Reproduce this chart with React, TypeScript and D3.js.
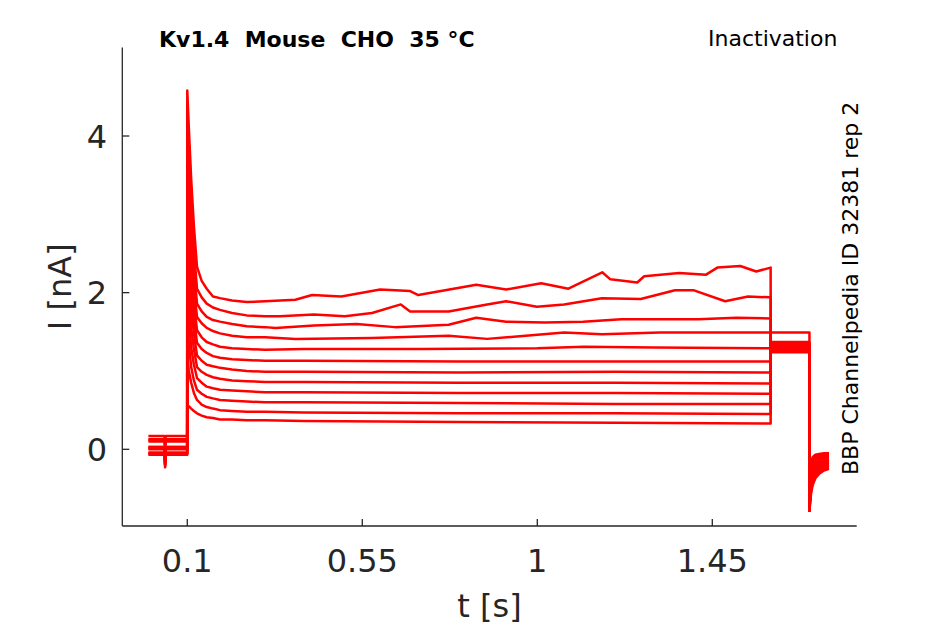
import React, { useEffect, useRef } from 'react';
import * as d3 from 'd3';

// --- data (12 sweeps, lowest plateau first) ---

const xTicks = [0.1, 0.55, 1, 1.45];
const yTicks = [0, 2, 4];

// holding level before the first step (t = 0 .. 0.1 s)
const baseLevels = [0.17, 0.12, 0.13, 0.1, 0.03, 0.01, 0.0, 0.03, -0.05, -0.04, -0.07, -0.06];
// short artefact at t ~ 0.043 s
const dipLevels = [0.1, 0.05, 0.06, 0.03, -0.05, -0.07, -0.1, -0.06, -0.18, -0.2, -0.23, -0.21];

// fast transient after the step
const earlyTimes = [0.1, 0.104, 0.11, 0.117, 0.125, 0.137, 0.15, 0.166, 0.184, 0.215, 0.253, 0.3];
const earlyValues = [
  [0.52, 0.55, 0.52, 0.49, 0.46, 0.43, 0.41, 0.4, 0.38, 0.38, 0.37, 0.37],
  [1.2, 1.0, 0.85, 0.72, 0.63, 0.57, 0.54, 0.52, 0.5, 0.49, 0.48, 0.48],
  [1.7, 1.35, 1.05, 0.88, 0.76, 0.71, 0.67, 0.65, 0.63, 0.62, 0.61, 0.6],
  [2.2, 1.7, 1.3, 1.08, 0.91, 0.85, 0.8, 0.78, 0.76, 0.75, 0.74, 0.73],
  [2.6, 2.05, 1.55, 1.28, 1.05, 0.99, 0.95, 0.92, 0.9, 0.88, 0.87, 0.86],
  [3.0, 2.4, 1.8, 1.48, 1.2, 1.13, 1.08, 1.06, 1.04, 1.02, 1.0, 0.99],
  [3.4, 2.7, 2.05, 1.68, 1.36, 1.28, 1.23, 1.19, 1.17, 1.15, 1.14, 1.13],
  [3.7, 3.0, 2.3, 1.88, 1.52, 1.43, 1.37, 1.34, 1.31, 1.29, 1.28, 1.27],
  [4.0, 3.3, 2.55, 2.08, 1.69, 1.61, 1.55, 1.51, 1.48, 1.45, 1.43, 1.43],
  [4.2, 3.55, 2.8, 2.3, 1.86, 1.76, 1.69, 1.65, 1.63, 1.6, 1.57, 1.56],
  [4.4, 3.8, 3.1, 2.55, 2.05, 1.94, 1.86, 1.81, 1.78, 1.74, 1.71, 1.7],
  [4.58, 4.1, 3.45, 2.85, 2.33, 2.15, 2.05, 1.95, 1.93, 1.9, 1.88, 1.89],
];

// sustained current during the step, [t, I]
const plateauPoints: [number, number][][] = [
  [[0.4, 0.36], [0.8, 0.35], [1.2, 0.34], [1.6, 0.33]],
  [[0.4, 0.47], [0.8, 0.46], [1.2, 0.46], [1.6, 0.45]],
  [[0.4, 0.6], [0.8, 0.59], [1.2, 0.58], [1.6, 0.58]],
  [[0.4, 0.73], [0.8, 0.72], [1.2, 0.72], [1.6, 0.71]],
  [[0.4, 0.86], [0.8, 0.85], [1.2, 0.85], [1.6, 0.84]],
  [[0.4, 0.99], [0.8, 0.98], [1.2, 0.99], [1.6, 0.98]],
  [[0.4, 1.13], [0.8, 1.12], [1.2, 1.12], [1.6, 1.12]],
  [[0.4, 1.28], [0.7, 1.28], [1.0, 1.29], [1.12, 1.31], [1.3, 1.3], [1.6, 1.29]],
  [[0.378, 1.41], [0.575, 1.42], [0.772, 1.45], [0.871, 1.41], [0.97, 1.45], [1.069, 1.49],
    [1.166, 1.47], [1.315, 1.49], [1.463, 1.49], [1.6, 1.49]],
  [[0.327, 1.55], [0.426, 1.58], [0.535, 1.6], [0.634, 1.56], [0.772, 1.59], [0.843, 1.68],
    [0.92, 1.63], [1.019, 1.62], [1.118, 1.63], [1.216, 1.66], [1.315, 1.66], [1.414, 1.66],
    [1.512, 1.68], [1.6, 1.67]],
  [[0.338, 1.7], [0.426, 1.72], [0.505, 1.7], [0.575, 1.74], [0.649, 1.85], [0.673, 1.76],
    [0.772, 1.76], [0.871, 1.85], [0.92, 1.89], [0.999, 1.82], [1.069, 1.85], [1.166, 1.93],
    [1.266, 1.92], [1.354, 2.03], [1.403, 2.03], [1.483, 1.89], [1.542, 1.95], [1.6, 1.94]],
  [[0.378, 1.91], [0.421, 1.97], [0.496, 1.95], [0.596, 2.04], [0.673, 2.02], [0.694, 1.97],
    [0.774, 2.04], [0.843, 2.1], [0.92, 2.04], [1.01, 2.12], [1.08, 2.05], [1.167, 2.26],
    [1.188, 2.17], [1.257, 2.13], [1.275, 2.21], [1.365, 2.25], [1.434, 2.23], [1.463, 2.32],
    [1.522, 2.34], [1.563, 2.27], [1.6, 2.32]],
];

// test pulse level (t = 1.6 .. 1.7 s)
const tailLevels = [1.49, 1.37, 1.35, 1.34, 1.33, 1.32, 1.31, 1.3, 1.29, 1.28, 1.26, 1.24];

// return to holding (t = 1.7 .. 1.75 s)
const recoveryTimes = [1.7, 1.7012, 1.704, 1.708, 1.715, 1.725, 1.737, 1.75];
const recoveryValues = [
  [-0.78, -0.7, -0.56, -0.46, -0.37, -0.31, -0.27, -0.25],
  [-0.78, -0.68, -0.53, -0.43, -0.35, -0.29, -0.25, -0.23],
  [-0.78, -0.66, -0.5, -0.4, -0.32, -0.27, -0.23, -0.21],
  [-0.78, -0.64, -0.47, -0.37, -0.29, -0.24, -0.21, -0.19],
  [-0.78, -0.62, -0.44, -0.34, -0.26, -0.22, -0.19, -0.17],
  [-0.78, -0.6, -0.41, -0.31, -0.23, -0.19, -0.17, -0.15],
  [-0.78, -0.58, -0.38, -0.28, -0.21, -0.17, -0.15, -0.13],
  [-0.78, -0.56, -0.34, -0.24, -0.18, -0.15, -0.12, -0.11],
  [-0.78, -0.54, -0.3, -0.21, -0.15, -0.12, -0.1, -0.09],
  [-0.78, -0.52, -0.26, -0.17, -0.12, -0.1, -0.09, -0.08],
  [-0.78, -0.5, -0.22, -0.13, -0.09, -0.08, -0.07, -0.06],
  [-0.78, -0.48, -0.18, -0.1, -0.07, -0.06, -0.05, -0.05],
];

const AXIS = '#262626';
const FONT = 'DejaVu Sans, sans-serif';

const App: React.FC = () => {
  const svgRef = useRef<SVGSVGElement>(null);

  useEffect(() => {
    if (!svgRef.current) return;
    d3.select(svgRef.current).selectAll('*').remove();

    const width = 945;
    const height = 624;
    const svg = d3.select(svgRef.current)
      .attr('width', width)
      .attr('height', height)
      .attr('viewBox', `0 0 ${width} ${height}`);

    const left = 122.3, right = 856.7, top = 47.5, bottom = 526;
    const x = d3.scaleLinear().domain([-0.0671, 1.8213]).range([left, right]);
    const y = d3.scaleLinear().domain([-0.979, 5.13]).range([bottom, top]);

    // build each sweep
    const line = d3.line<[number, number]>()
      .x(d => x(d[0]))
      .y(d => y(d[1]));

    const plot = svg.append('g');
    baseLevels.forEach((base, i) => {
      const pts: [number, number][] = [
        [0, base], [0.041, base], [0.043, dipLevels[i]], [0.045, base], [0.0998, base],
      ];
      earlyTimes.forEach((t, k) => pts.push([t, earlyValues[i][k]]));
      plateauPoints[i].forEach(p => pts.push(p));
      pts.push([1.6002, tailLevels[i]]);
      pts.push([1.6998, tailLevels[i]]);
      recoveryTimes.forEach((t, k) => pts.push([t, recoveryValues[i][k]]));

      plot.append('path')
        .attr('d', line(pts) || '')
        .attr('fill', 'none')
        .attr('stroke', '#ff0000')
        .attr('stroke-width', 2.5)
        .attr('stroke-linejoin', 'round');
    });

    // axes
    const axes = svg.append('g').attr('stroke', AXIS).attr('stroke-width', 1.3);
    axes.append('line').attr('x1', left).attr('x2', left).attr('y1', top).attr('y2', bottom);
    axes.append('line').attr('x1', left).attr('x2', right).attr('y1', bottom).attr('y2', bottom);

    xTicks.forEach(t => {
      axes.append('line')
        .attr('x1', x(t)).attr('x2', x(t))
        .attr('y1', bottom).attr('y2', bottom - 7);
      svg.append('text')
        .attr('x', x(t))
        .attr('y', 571.5)
        .attr('text-anchor', 'middle')
        .style('font-family', FONT)
        .style('font-size', '32px')
        .style('fill', AXIS)
        .text(String(t));
    });

    yTicks.forEach(v => {
      axes.append('line')
        .attr('x1', left).attr('x2', left + 7)
        .attr('y1', y(v)).attr('y2', y(v));
      svg.append('text')
        .attr('x', 107)
        .attr('y', y(v) + 11.5)
        .attr('text-anchor', 'end')
        .style('font-family', FONT)
        .style('font-size', '32px')
        .style('fill', AXIS)
        .text(String(v));
    });

    // axis labels
    svg.append('text')
      .attr('x', (left + right) / 2)
      .attr('y', 616.5)
      .attr('text-anchor', 'middle')
      .style('font-family', FONT)
      .style('font-size', '32px')
      .style('fill', AXIS)
      .text('t [s]');

    svg.append('text')
      .attr('transform', `translate(71,${(top + bottom) / 2}) rotate(-90)`)
      .attr('text-anchor', 'middle')
      .style('font-family', FONT)
      .style('font-size', '32px')
      .style('fill', AXIS)
      .text('I [nA]');

    // titles
    svg.append('text')
      .attr('x', 159)
      .attr('y', 46.5)
      .style('font-family', FONT)
      .style('font-size', '22px')
      .style('font-weight', 'bold')
      .style('white-space', 'pre')
      .style('fill', '#000')
      .text('Kv1.4  Mouse  CHO  35 °C');

    svg.append('text')
      .attr('x', 708)
      .attr('y', 46)
      .style('font-family', FONT)
      .style('font-size', '22px')
      .style('fill', '#000')
      .text('Inactivation');

    svg.append('text')
      .attr('transform', 'translate(858,475) rotate(-90)')
      .style('font-family', FONT)
      .style('font-size', '22px')
      .style('fill', '#000')
      .text('BBP Channelpedia ID 32381 rep 2');
  }, []);

  return (
    <svg
      ref={svgRef}
      style={{ position: 'absolute', left: 0, top: 0, background: '#fff' }}
    />
  );
};

export default App;
